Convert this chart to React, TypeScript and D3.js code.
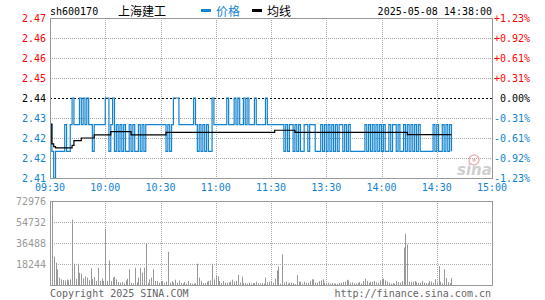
import * as d3 from "d3";

// minute prices, 09:30 .. 14:38 (219 points, afternoon continues after 11:30)
const PRICES = [
  2.43, 2.42, 2.41, 2.42, 2.42, 2.42, 2.42, 2.42, 2.43, 2.42,
  2.42, 2.43, 2.44, 2.43, 2.43, 2.43, 2.44, 2.43, 2.44, 2.43,
  2.44, 2.43, 2.43, 2.42, 2.43, 2.43, 2.43, 2.43, 2.43, 2.43,
  2.44, 2.44, 2.42, 2.43, 2.44, 2.42, 2.43, 2.42, 2.43, 2.42,
  2.43, 2.42, 2.42, 2.43, 2.42, 2.43, 2.42, 2.42, 2.43, 2.42,
  2.43, 2.42, 2.43, 2.43, 2.43, 2.43, 2.43, 2.43, 2.43, 2.43,
  2.43, 2.43, 2.43, 2.42, 2.43, 2.42, 2.43, 2.44, 2.44, 2.44,
  2.43, 2.43, 2.43, 2.43, 2.43, 2.43, 2.43, 2.43, 2.44, 2.43,
  2.42, 2.43, 2.42, 2.43, 2.42, 2.43, 2.42, 2.42, 2.44, 2.43,
  2.43, 2.43, 2.43, 2.43, 2.43, 2.43, 2.44, 2.43, 2.43, 2.43,
  2.44, 2.43, 2.44, 2.43, 2.43, 2.44, 2.43, 2.44, 2.43, 2.43,
  2.43, 2.44, 2.43, 2.43, 2.43, 2.43, 2.43, 2.44, 2.43, 2.43,
  2.43, 2.43, 2.43, 2.43, 2.43, 2.43, 2.43, 2.42, 2.43, 2.42,
  2.43, 2.43, 2.42, 2.43, 2.42, 2.43, 2.42, 2.42, 2.43, 2.43,
  2.42, 2.43, 2.43, 2.43, 2.42, 2.42, 2.42, 2.43, 2.42, 2.43,
  2.42, 2.43, 2.42, 2.43, 2.42, 2.43, 2.42, 2.43, 2.43, 2.42,
  2.43, 2.42, 2.43, 2.42, 2.42, 2.42, 2.42, 2.42, 2.42, 2.42,
  2.42, 2.43, 2.42, 2.43, 2.42, 2.43, 2.42, 2.43, 2.42, 2.43,
  2.42, 2.43, 2.42, 2.42, 2.43, 2.42, 2.43, 2.43, 2.42, 2.43,
  2.42, 2.42, 2.43, 2.42, 2.43, 2.42, 2.43, 2.42, 2.43, 2.42,
  2.43, 2.42, 2.42, 2.42, 2.42, 2.42, 2.42, 2.42, 2.43, 2.42,
  2.43, 2.42, 2.42, 2.43, 2.42, 2.43, 2.42, 2.43, 2.42,
];

// average line, [minute, value] where it changes
const AVG_STEPS: [number, number][] = [
  [0, 2.4302], [1, 2.4228], [2, 2.4218], [3, 2.4213], [12, 2.4222],
  [13, 2.424], [17, 2.425], [24, 2.4262], [33, 2.4274], [44, 2.4262],
  [63, 2.4271], [122, 2.4279], [133, 2.4271], [194, 2.4263], [218, 2.4263],
];

const VOLUMES = [
  7000, 72976, 24600, 19400, 13600, 6400, 4900, 4300, 4000, 4900,
  4000, 4900, 56800, 18500, 5500, 18500, 10700, 9800, 5800, 7500,
  6400, 4000, 14500, 5200, 6800, 3500, 15000, 3500, 5800, 3500,
  48800, 3500, 21400, 3500, 6400, 7200, 4900, 2600, 2000, 2600,
  1500, 4000, 5500, 13600, 2000, 1500, 15000, 2300, 6400, 15000,
  10700, 15000, 35900, 2000, 4900, 6400, 13600, 3500, 3500, 2000,
  3500, 3500, 1500, 2900, 28900, 2000, 3500, 2000, 4600, 2000,
  4000, 1700, 1200, 2600, 1200, 3500, 1700, 1200, 1200, 1500,
  18500, 6400, 3500, 1700, 1700, 2900, 3500, 4000, 18500, 4900,
  7800, 7500, 3500, 1700, 3500, 2000, 2000, 2300, 2900, 4600,
  2900, 3500, 8700, 2300, 7200, 1700, 1700, 1200, 2000, 1200,
  1700, 1700, 2900, 1500, 1200, 1700, 1200, 6400, 2300, 2900,
  3500, 2000, 5500, 12700, 16000, 1200, 26600, 2000, 2900, 1200,
  2000, 2000, 1500, 800, 8700, 2900, 2900, 1200, 2900, 2000,
  2000, 3500, 4900, 4900, 2000, 2000, 3500, 4000, 4900, 2000,
  1700, 2000, 1200, 1700, 1200, 1200, 1200, 1700, 2000, 2600,
  2900, 4600, 4000, 2000, 2300, 1500, 1200, 2000, 2300, 1200,
  3500, 5500, 3500, 2000, 2900, 2600, 3500, 2300, 2000, 4000,
  5500, 5500, 4000, 2900, 2000, 1200, 1500, 1200, 3500, 2600,
  2000, 3500, 32400, 44600, 35300, 2900, 2900, 2900, 3500, 2300,
  2000, 2000, 3500, 2000, 1500, 1500, 3500, 2900, 2000, 5000,
  2000, 16500, 2900, 1500, 13600, 6000, 2500, 1500, 6000,
];

const PRICE_LABELS = ["2.47", "2.46", "2.46", "2.45", "2.44", "2.43", "2.42", "2.42", "2.41"];
const PCT_LABELS = ["+1.23%", "+0.92%", "+0.61%", "+0.31%", "0.00%", "-0.31%", "-0.61%", "-0.92%", "-1.23%"];
const TIME_LABELS = ["09:30", "10:00", "10:30", "11:00", "11:30", "13:30", "14:00", "14:30", "15:00"];
const VOL_LABELS = ["72976", "54732", "36488", "18244"];

const PRICE_MIN = 2.41;
const PRICE_MAX = 2.47;
const VOL_MAX = 72976;
const MINUTES = 240;

const BLUE = "#1283d0";
const RED = "#f00";
const GRID = "#aaa";
const MONO = "'DejaVu Sans Mono', monospace";
const CJK = "'Noto Sans CJK SC', sans-serif";

export default function App() {
  const width = 545;
  const height = 300;
  const left = 50;
  const right = 492;

  const x = d3.scaleLinear().domain([0, MINUTES]).range([left, right]);
  const yP = d3.scaleLinear().domain([PRICE_MIN, PRICE_MAX]).range([178, 18]);
  const yV = d3.scaleLinear().domain([0, VOL_MAX]).range([285, 201]);

  const priceLine = d3.line<number>()
    .x((d, i) => x(i))
    .y(d => yP(d))
    .curve(d3.curveStepAfter);

  const avgLine = d3.line<[number, number]>()
    .x(d => x(d[0]))
    .y(d => yP(d[1]))
    .curve(d3.curveStepAfter);

  const priceTicks = d3.range(9).map(k => PRICE_MAX - k * (PRICE_MAX - PRICE_MIN) / 8);
  const volTicks = d3.range(4).map(k => VOL_MAX - k * VOL_MAX / 4);
  const timeTicks = d3.range(9).map(k => k * 30);

  const labelColor = (k: number) => (k < 4 ? RED : k === 4 ? "#000" : BLUE);
  const px = (v: number) => Math.round(v) + 0.5;

  return (
    <svg width={width} height={height} style={{ position: "absolute", left: 0, top: 0, background: "#fff" }}
      fontFamily={MONO} fontSize={10}>
      {/* header */}
      <text x={50} y={15} fill="#000">sh600170</text>
      <text x={118} y={16} fontSize={12} fontFamily={CJK} fill="#000">上海建工</text>
      <rect x={201} y={9} width={10} height={3} fill={BLUE} />
      <text x={216} y={16} fontSize={12} fontFamily={CJK} fill={BLUE}>价格</text>
      <rect x={252} y={9} width={10} height={3} fill="#000" />
      <text x={267} y={16} fontSize={12} fontFamily={CJK} fill="#000">均线</text>
      <text x={492} y={15} textAnchor="end" fill="#000">2025-05-08 14:38:00</text>

      {/* price grid */}
      {timeTicks.slice(1, -1).map(t => (
        <line key={"pv" + t} x1={px(x(t))} x2={px(x(t))} y1={18} y2={178}
          stroke={GRID} strokeDasharray="1,1" />
      ))}
      {priceTicks.slice(1, -1).map((p, k) => (
        <line key={"ph" + k} x1={left} x2={right} y1={px(yP(p))} y2={px(yP(p))}
          stroke={k + 1 === 4 ? "#000" : GRID} strokeDasharray={k + 1 === 4 ? "2,2" : "1,1"} />
      ))}

      {/* sina watermark */}
      <g opacity={0.7}>
        <circle cx={474} cy={160} r={5} fill="none" stroke="#e89a9a" strokeWidth={1.6} />
        <circle cx={474} cy={160} r={1.6} fill="#e89a9a" />
        <text x={457} y={175} fontFamily="'DejaVu Sans', sans-serif" fontSize={15} fontWeight="bold"
          fontStyle="italic" fill="#bbb">sina</text>
      </g>

      {/* price + average */}
      <path d={priceLine(PRICES) ?? ""} fill="none" stroke={BLUE} strokeWidth={1.2} />
      <path d={avgLine(AVG_STEPS) ?? ""} fill="none" stroke="#000" strokeWidth={1.2} />

      <rect x={left + 0.5} y={18.5} width={right - left} height={160} fill="none" stroke="#999" />

      {/* price labels */}
      {priceTicks.map((p, k) => (
        <text key={"pl" + k} x={46} y={yP(p)} dy="0.35em" textAnchor="end" fill={labelColor(k)}>
          {PRICE_LABELS[k]}
        </text>
      ))}
      {priceTicks.map((p, k) => (
        <text key={"pr" + k} x={530} y={yP(p)} dy="0.35em" textAnchor="end" fill={labelColor(k)}>
          {PCT_LABELS[k]}
        </text>
      ))}

      {/* time labels */}
      {timeTicks.map((t, k) => (
        <text key={"t" + k} x={x(t)} y={191} textAnchor="middle" fill={BLUE}>{TIME_LABELS[k]}</text>
      ))}

      {/* volume grid */}
      {timeTicks.slice(1, -1).map(t => (
        <line key={"vv" + t} x1={px(x(t))} x2={px(x(t))} y1={201} y2={285}
          stroke={GRID} strokeDasharray="1,1" />
      ))}
      {volTicks.slice(1).map((v, k) => (
        <line key={"vh" + k} x1={left} x2={right} y1={px(yV(v))} y2={px(yV(v))}
          stroke={GRID} strokeDasharray="1,1" />
      ))}

      {/* volume bars */}
      {VOLUMES.map((v, i) => (
        <rect key={"b" + i} x={Math.round(x(i))} y={yV(v)} width={1} height={yV(0) - yV(v)} fill="#999" />
      ))}

      <rect x={left + 0.5} y={201.5} width={right - left} height={84} fill="none" stroke="#999" />

      {volTicks.map((v, k) => (
        <text key={"vl" + k} x={46} y={yV(v)} dy="0.35em" textAnchor="end" fill="#999">{VOL_LABELS[k]}</text>
      ))}

      {/* footer */}
      <text x={50} y={297} fill="#666">Copyright 2025 SINA.COM</text>
      <text x={491} y={297} textAnchor="end" fill="#666">http://finance.sina.com.cn</text>
    </svg>
  );
}
